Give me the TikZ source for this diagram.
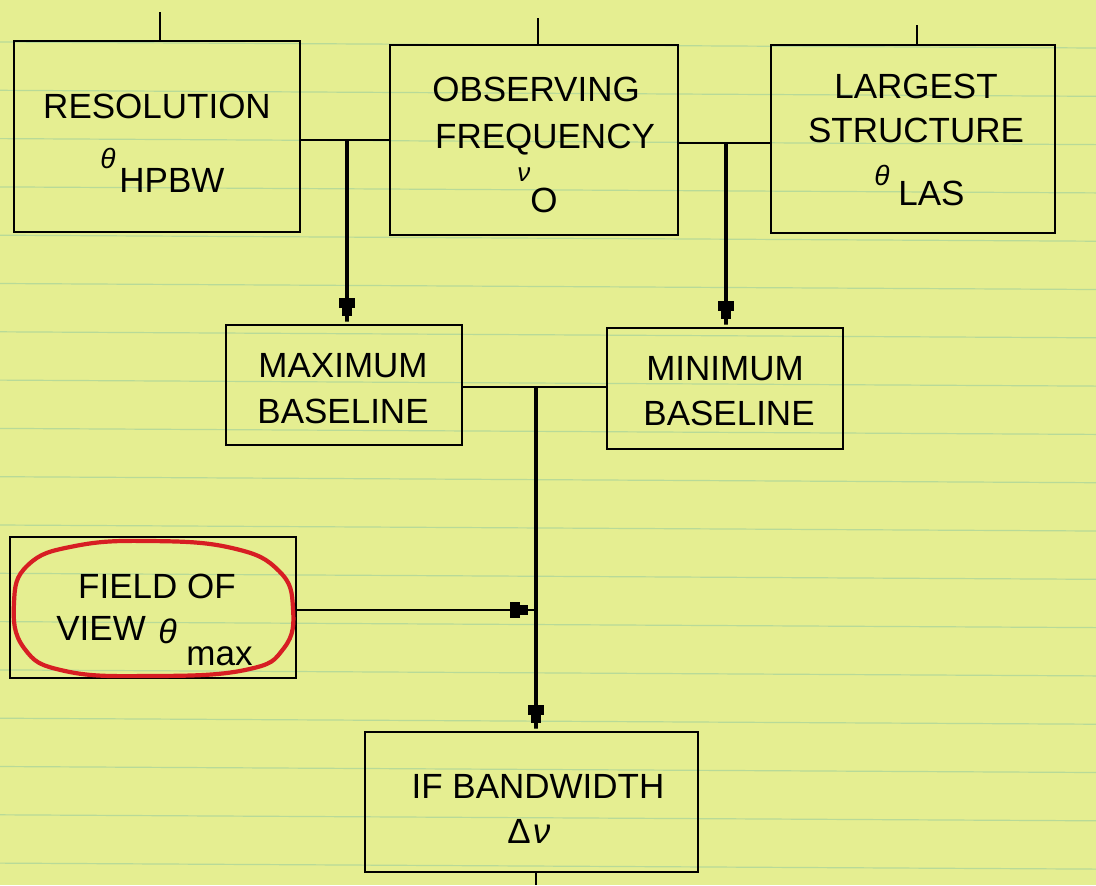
\documentclass[tikz,border=0pt]{standalone}
\usepackage{fontspec}
\setmainfont{Liberation Sans}
\usetikzlibrary{arrows.meta}
\definecolor{paper}{RGB}{229,238,145}
\definecolor{rule}{RGB}{184,218,152}
\definecolor{pen}{RGB}{215,30,35}
\tikzset{
  box/.style={draw, line width=1.4pt, inner sep=0pt},
  lbl/.style={anchor=base, inner sep=0pt, font=\fontsize{17.5}{21}\selectfont},
  lblw/.style={anchor=base west, inner sep=0pt, font=\fontsize{17.5}{21}\selectfont},
  grk/.style={anchor=base west, inner sep=0pt, font=\fontsize{14}{17}\selectfont\itshape},
  wire/.style={line width=1.4pt},
  arr/.style={line width=1.9pt, -{Rectangle[length=5pt,width=8pt,sep=0pt]Rectangle[length=4pt,width=5pt,sep=0pt]Rectangle[length=4pt,width=1.9pt,sep=0pt]}},
  arrthin/.style={line width=1.1pt, -{Rectangle[length=5pt,width=8pt,sep=0pt]Rectangle[length=4pt,width=5pt,sep=0pt]Rectangle[length=4pt,width=1.1pt,sep=0pt]}},
}
\begin{document}
\begin{tikzpicture}[x=0.5pt,y=-0.5pt]
\fill[paper] (0,0) rectangle (1096,885);
\useasboundingbox (0,0) rectangle (1096,885);
% ruled paper
\foreach \k in {0,...,17}{
  \draw[rule, line width=0.6pt] (0,{42+48.3*\k}) -- (1096,{48+48.3*\k});
}
% boxes
\node[box, minimum width=143pt, minimum height=95.5pt] (res) at (157,136.5) {};
\node[box, minimum width=144pt, minimum height=95pt] (obs) at (534,140) {};
\node[box, minimum width=142pt, minimum height=94pt] (las) at (913,139) {};
\node[box, minimum width=118pt, minimum height=60pt] (maxb) at (344,385) {};
\node[box, minimum width=118pt, minimum height=60.5pt] (minb) at (725,388.5) {};
\node[box, minimum width=143pt, minimum height=70.5pt] (fov) at (153,607.5) {};
\node[box, minimum width=166.5pt, minimum height=70pt] (ifb) at (531.5,802) {};
% texts
\node[lbl] (t1) at (157,118) {RESOLUTION};
\node[grk] (t2) at (100,168) {θ};
\node[lblw] (t3) at (119,192) {HPBW};
\node[lbl] (t4) at (536,101) {OBSERVING};
\node[lbl] (t5) at (545,148) {FREQUENCY};
\node[grk, font=\fontsize{13}{15}\selectfont\itshape] (t6) at (517,181) {ν};
\node[lblw] (t7) at (530,212) {O};
\node[lbl] (t8) at (916,98) {LARGEST};
\node[lbl] (t9) at (916,142) {STRUCTURE};
\node[grk] (t10) at (874,185) {θ};
\node[lblw] (t11) at (898,205) {LAS};
\node[lbl] (t12) at (343,377) {MAXIMUM};
\node[lbl] (t13) at (343,423) {BASELINE};
\node[lbl] (t14) at (725,380) {MINIMUM};
\node[lbl] (t15) at (729,425) {BASELINE};
\node[lbl] (t16) at (157,598) {FIELD OF};
\node[lblw] (t17) at (56,640) {VIEW};
\node[lblw, font=\fontsize{17}{20}\selectfont\itshape] (t18) at (158,643) {θ};
\node[lblw] (t19) at (186,665) {max};
\node[lbl] (t20) at (538,798) {IF BANDWIDTH};
\node[lblw] (t21) at (507,843) {Δ\kern1pt\textit{ν}};
% red hand-drawn ring
\draw[pen, line width=2.1pt] plot[smooth cycle, tension=0.75] coordinates {
  (150,541) (232,548) (279,571) (293,608) (284,648) (245,670) (150,676)
  (65,671) (24,648) (14,603) (28,565) (75,546)};
% connectors
\coordinate (u1) at (160,12);
\coordinate (u2) at (538,18);
\coordinate (u3) at (917,25);
\coordinate (j1) at (347,140);
\coordinate (j2) at (726,143);
\coordinate (j3) at (536,387);
\coordinate (j4) at (536,610);
\coordinate (bt) at (536,885);
\draw[wire] (u1) -- (u1 |- res.north);
\draw[wire] (u2) -- (u2 |- obs.north);
\draw[wire] (u3) -- (u3 |- las.north);
\draw[wire] (res.east |- j1) -- (obs.west |- j1);
\draw[arr] (j1) -- (j1 |- maxb.north);
\draw[wire] (obs.east |- j2) -- (las.west |- j2);
\draw[arr] (j2) -- (j2 |- minb.north);
\draw[wire] (maxb.east |- j3) -- (minb.west |- j3);
\draw[arr] (j3) -- (j3 |- ifb.north);
\draw[arrthin] (fov.east |- j4) -- (j4);
\draw[wire] (ifb.south -| bt) -- (bt);
\end{tikzpicture}
\end{document}
